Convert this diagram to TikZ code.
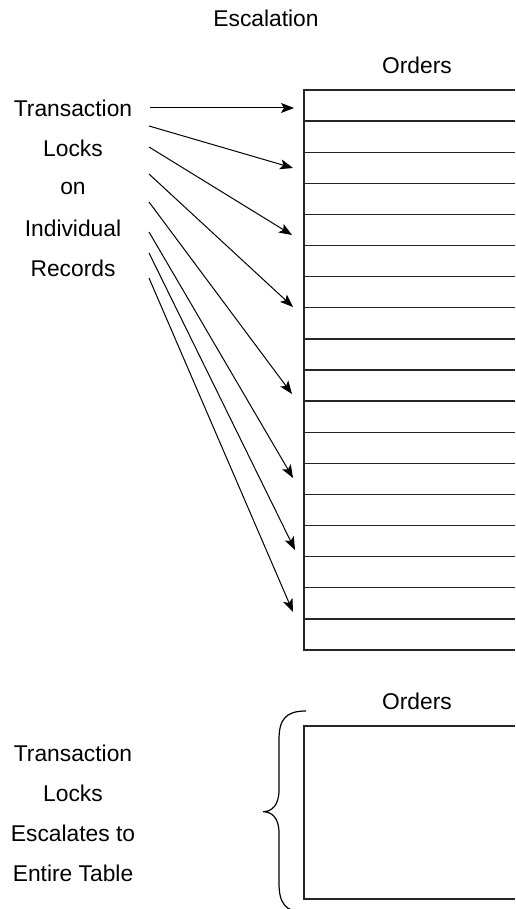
\documentclass[tikz,border=0pt]{standalone}
\usepackage{fontspec}
\setmainfont{Liberation Sans}
\usetikzlibrary{arrows.meta}
\begin{document}
\begin{tikzpicture}[x=1pt,y=-1pt,
  lbl/.style={font=\fontsize{22.8}{27}\selectfont, inner sep=0pt, anchor=center},
  grid/.style={line width=1.4pt, black!85},
  arr/.style={line width=1pt, -{Stealth[length=13pt,width=10pt,inset=3pt]}},
  brace/.style={line width=1.2pt}]
\useasboundingbox (0,0) rectangle (515,909);
% titles
\node[lbl] (title) at (266,18) {Escalation};
\node[lbl] (orders1) at (417,65) {Orders};
% left labels top
\node[lbl] (t1) at (73,108) {Transaction};
\node[lbl] (t2) at (73,148) {Locks};
\node[lbl] (t3) at (73,188) {on};
\node[lbl] (t4) at (73,228) {Individual};
\node[lbl] (t5) at (73,268) {Records};
% table rows
\draw[grid] (515,90) -- (304,90) -- (304,650) -- (515,650);
\foreach \k in {1,...,17} {
  \draw[grid] (304,{90+31.111*\k}) -- (515,{90+31.111*\k});
}
% arrow coordinates
\coordinate (s1) at (150,108);   \coordinate (e1) at (294,108);
\coordinate (s2) at (149,126);   \coordinate (e2) at (293,168);
\coordinate (s3) at (149,147);   \coordinate (e3) at (292,235);
\coordinate (s4) at (149,174);   \coordinate (e4) at (293,307);
\coordinate (s5) at (149,202);   \coordinate (e5) at (292,394);
\coordinate (s6) at (149,232);   \coordinate (e6) at (293,478);
\coordinate (s7) at (149,253);   \coordinate (e7) at (295,550);
\coordinate (s8) at (149,278);   \coordinate (e8) at (293,612);
\foreach \i in {1,...,8} { \draw[arr] (s\i) -- (e\i); }
% bottom part
\node[lbl] (orders2) at (417,701) {Orders};
\draw[grid] (515,726) -- (304,726) -- (304,899) -- (515,899);
\node[lbl] (b1) at (73,753) {Transaction};
\node[lbl] (b2) at (73,793) {Locks};
\node[lbl] (b3) at (73,833) {Escalates to};
\node[lbl] (b4) at (73,873) {Entire Table};
\coordinate (bt) at (306,711);
\coordinate (bm) at (263,811.7);
\coordinate (bb) at (306,912.4);
\draw[brace] (bt) .. controls (285,711) and (279,720) .. (279,740) -- (279,790)
  .. controls (279,805) and (272,811.7) .. (bm)
  .. controls (272,811.7) and (279,818) .. (279,833) -- (279,883)
  .. controls (279,903) and (285,912.4) .. (bb);
\end{tikzpicture}
\end{document}
